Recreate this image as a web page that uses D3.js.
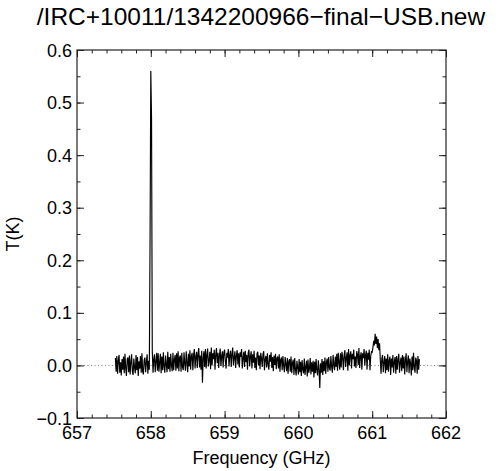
<!DOCTYPE html>
<html>
<head>
<meta charset="utf-8">
<script src="https://cdn.jsdelivr.net/npm/d3@7/dist/d3.min.js"></script>
<style>
  html, body { margin: 0; padding: 0; background: #fff; }
  svg { display: block; }
  text { font-family: "Liberation Sans", Arial, Helvetica, sans-serif; fill: #000; }
</style>
</head>
<body>
<svg id="chart" width="500" height="471"></svg>
<script>
// ---------- data ----------
const titleText = "/IRC+10011/1342200966\u2212final\u2212USB.new";
const xLabel = "Frequency (GHz)";
const yLabel = "T(K)";
const xDomain = [657, 662];
const yDomain = [-0.1, 0.6];
const xTicks = [657, 658, 659, 660, 661, 662];
const yTicks = [-0.1, 0.0, 0.1, 0.2, 0.3, 0.4, 0.5, 0.6];
const yTickLabels = ["\u22120.1", "0.0", "0.1", "0.2", "0.3", "0.4", "0.5", "0.6"];
// spectrum channels: first channel frequency and channel width (GHz)
const freqStart = 657.52;
const channelWidth = 0.01;
// antenna temperature per channel, in mK
const tempMilliK = [
  14, -12, 18, -16, 9, 20, -14, 6, -19, 12,
  -8, 17, -15, 22, -6, -20, 11, 15, -13, 19,
  -17, 7, 21, -11, -18, 13, -4, -15, 20, -9,
  16, -20, 8, -6, 18, -14, 23, -12, -17, 10,
  15, -13, 6, 21, -16, 9, -8, 240, 560, 470,
  28, -14, 12, 21, -13, 8, 24, -10, 23, -12,
  6, 22, -15, 17, -9, 25, -3, -14, 19, 2,
  -13, 26, -7, 16, -12, 22, 0, -11, 24, -9,
  11, 20, -10, 23, -6, 27, -11, 15, 19, -12,
  24, -4, -9, 25, 3, -10, 27, 6, -13, 22,
  -2, 29, -8, 18, 24, -9, 20, 31,
  -6, 16, 26, -5, 22, 33, -4, 19, -8, 28,
  -33, 14, 27, -3, 31, -6, 20, 32, -2, 9,
  26, -7, 34, 0, 23, 12, 30, -8, 21, 33,
  4, 24, -5, 19, 32, -1, 18, 27, -4, 25,
  30, 8, -6, 24, 15, 31, -2, 20, 28, -3,
  22, 34, 0, 15, 27, -5, 19, 29, 2, 23,
  -4, 25, 16, 31, -6, 14, 26, -3, 28, 6,
  20, -8, 24, 30, -2, 17, 27, -6, 21, 5,
  28, -5, 15, -9, 23, 26, 0, 19, -7, 24,
  13, -3, 21, 27, -9, 12, 18, -4, 23, 2,
  -8, 20, 7, 25, -5, 16, -11, 19, 1, 22,
  -7, 14, 17, -6, 21, -12, 11, 15, -9, 18,
  -1, -13, 16, 3, -11, 14, -16, 8, 12, -12,
  17, -15, 5, 11, -18, 14, -8, -19, 9, -4,
  -17, 12, -13, 7, -20, 10, -7, -15, 13, -18,
  -3, 9, -21, 11, -14, -6, 14, -17, 6, -12,
  9, -23, 7, -15, 12, -10, -19, 10, -8, -43,
  4, -14, 12, -18, 8, -11, 15, -16, 6, 13,
  -12, 16, -5, -10, 18, -2, -14, 20, 1, -9,
  17, -3, 22, -10, 24, 6, -8, 23, -4, 26,
  15, -9, 20, 29, -3, 14, 25, -10, 31, 0,
  19, 27, -6, 22, 12, 30, -2, 17, -5, 27,
  21, 1, 33, -5, 18, 25, -8, 23, 14, 31,
  0, 20, 28, -8, 24, 11, 30, -9, 18, 26,
  25, 34, 47, 38, 60, 41, 55, 33, 50, 29, 42, 10,
  -16, 12, 20, -13, 6, 18, -15, 13, -9, 21,
  -12, 9, 17, -18, 13, -4, 20, -14, 7, 16,
  -16, 18, -8, 11, 22, -14, 5, 15, -11, 20,
  -6, 17, -17, 10, 23, -13, 8, 19, -15, 13,
  4, -19, 17, -9, 24, -3, -14, 15, 9, -16,
  18, -8, 12
];

// ---------- layout ----------
const plot = { left: 77, right: 446, top: 50, bottom: 418 };
const svg = d3.select("#chart");
const x = d3.scaleLinear().domain(xDomain).range([plot.left, plot.right]);
const y = d3.scaleLinear().domain(yDomain).range([plot.bottom, plot.top]);

const spectrum = tempMilliK.map((t, i) => ({ f: freqStart + i * channelWidth, t: t / 1000 }));

// zero reference line (dotted)
svg.append("line")
  .attr("x1", plot.left).attr("x2", plot.right)
  .attr("y1", y(0)).attr("y2", y(0))
  .attr("stroke", "#777").attr("stroke-width", 1)
  .attr("stroke-dasharray", "1,2.5");

// spectrum
svg.append("path")
  .datum(spectrum)
  .attr("fill", "none")
  .attr("stroke", "#000")
  .attr("stroke-width", 1.15)
  .attr("stroke-linejoin", "miter")
  .attr("d", d3.line().x(d => x(d.f)).y(d => y(d.t)));

// axes (ticks on all four sides, pointing inwards)
const axisColor = "#222";
const majorLen = 7, minorLen = 3.5;
const xMinor = d3.range(657, 662.0001, 0.2).map(v => +v.toFixed(2));
const yMinor = d3.range(-0.1, 0.6001, 0.05).map(v => +v.toFixed(3));

function styleAxis(g) {
  g.select(".domain").remove();
  g.selectAll(".tick line").attr("stroke", axisColor);
}

// bottom
svg.append("g").attr("transform", `translate(0,${plot.bottom})`)
  .call(d3.axisTop(x).tickValues(xMinor).tickSize(minorLen).tickFormat(""))
  .call(styleAxis);
svg.append("g").attr("transform", `translate(0,${plot.bottom})`)
  .call(d3.axisTop(x).tickValues(xTicks).tickSize(majorLen).tickFormat(""))
  .call(styleAxis);
// top
svg.append("g").attr("transform", `translate(0,${plot.top})`)
  .call(d3.axisBottom(x).tickValues(xMinor).tickSize(minorLen).tickFormat(""))
  .call(styleAxis);
svg.append("g").attr("transform", `translate(0,${plot.top})`)
  .call(d3.axisBottom(x).tickValues(xTicks).tickSize(majorLen).tickFormat(""))
  .call(styleAxis);
// left
svg.append("g").attr("transform", `translate(${plot.left},0)`)
  .call(d3.axisRight(y).tickValues(yMinor).tickSize(minorLen).tickFormat(""))
  .call(styleAxis);
svg.append("g").attr("transform", `translate(${plot.left},0)`)
  .call(d3.axisRight(y).tickValues(yTicks).tickSize(majorLen).tickFormat(""))
  .call(styleAxis);
// right
svg.append("g").attr("transform", `translate(${plot.right},0)`)
  .call(d3.axisLeft(y).tickValues(yMinor).tickSize(minorLen).tickFormat(""))
  .call(styleAxis);
svg.append("g").attr("transform", `translate(${plot.right},0)`)
  .call(d3.axisLeft(y).tickValues(yTicks).tickSize(majorLen).tickFormat(""))
  .call(styleAxis);

// frame
svg.append("rect")
  .attr("x", plot.left).attr("y", plot.top)
  .attr("width", plot.right - plot.left).attr("height", plot.bottom - plot.top)
  .attr("fill", "none").attr("stroke", axisColor).attr("stroke-width", 1.2);

// tick labels
svg.append("g").selectAll("text").data(xTicks).join("text")
  .attr("x", d => x(d)).attr("y", plot.bottom + 21)
  .attr("text-anchor", "middle").attr("font-size", 18)
  .text(d => d);
svg.append("g").selectAll("text").data(yTicks).join("text")
  .attr("x", plot.left - 5).attr("y", d => y(d) + 6.5)
  .attr("text-anchor", "end").attr("font-size", 18)
  .text((d, i) => yTickLabels[i]);

// axis titles
svg.append("text")
  .attr("x", (plot.left + plot.right) / 2).attr("y", 464)
  .attr("text-anchor", "middle").attr("font-size", 18)
  .text(xLabel);
svg.append("text")
  .attr("transform", `translate(19,${(plot.top + plot.bottom) / 2}) rotate(-90)`)
  .attr("text-anchor", "middle").attr("font-size", 18)
  .text(yLabel);

// title
svg.append("text")
  .attr("x", 261).attr("y", 25)
  .attr("text-anchor", "middle").attr("font-size", 24.5)
  .text(titleText);
</script>
</body>
</html>
